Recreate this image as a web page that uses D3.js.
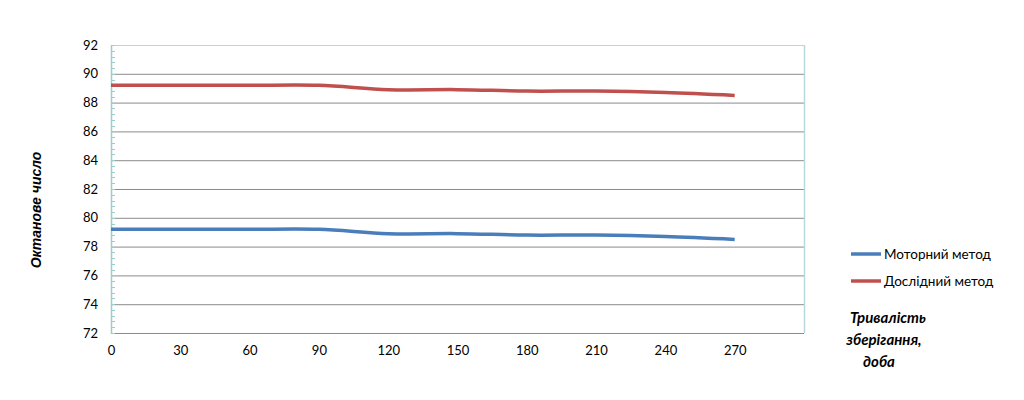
<!DOCTYPE html>
<html>
<head>
<meta charset="utf-8">
<script src="https://cdn.jsdelivr.net/npm/d3@7"></script>
<style>
html,body{margin:0;padding:0;background:#fff;}
svg{display:block;}
</style>
</head>
<body>
<svg id="chart" width="1024" height="400"></svg>
<script>
const days = [0, 30, 60, 90, 120, 150, 180, 210, 240, 270];
const motorMethod = [79.2, 79.2, 79.2, 79.2, 78.9, 78.9, 78.8, 78.8, 78.7, 78.5];
const researchMethod = [89.2, 89.2, 89.2, 89.2, 88.9, 88.9, 88.8, 88.8, 88.7, 88.5];
const xTicks = [0, 30, 60, 90, 120, 150, 180, 210, 240, 270];
const yTicks = [72, 74, 76, 78, 80, 82, 84, 86, 88, 90, 92];
const seriesNames = ["Моторний метод", "Дослідний метод"];
const seriesColors = ["#4a7ebb", "#c0504d"];
const yTitle = "Октанове число";
const xTitleLines = ["Тривалість", "зберігання,", "доба"];

const svg = d3.select("#chart");
const L = 111, R = 804, T = 45, B = 333;
const x = d3.scaleLinear().domain([0, 300]).range([L, R]);
const y = d3.scaleLinear().domain([72, 92]).range([B, T]);

// gridlines
svg.append("g").selectAll("line").data(yTicks.filter(v => v > 72 && v < 92)).join("line")
  .attr("x1", L).attr("x2", R)
  .attr("y1", d => y(d) + 0.5).attr("y2", d => y(d) + 0.5)
  .attr("stroke", "#8c8c8c").attr("stroke-width", 1);

// top and right border
svg.append("line").attr("x1", L).attr("x2", R).attr("y1", T + 0.5).attr("y2", T + 0.5)
  .attr("stroke", "#b7d9d9").attr("stroke-width", 1);
svg.append("line").attr("x1", R + 0.5).attr("x2", R + 0.5).attr("y1", T).attr("y2", B)
  .attr("stroke", "#b7d9d9").attr("stroke-width", 1.5);

// bottom axis line
svg.append("line").attr("x1", L).attr("x2", R).attr("y1", B + 0.5).attr("y2", B + 0.5)
  .attr("stroke", "#8c8c8c").attr("stroke-width", 1);

// y axis with minor ticks
const minor = d3.range(72, 92.001, 0.4);
svg.append("g").selectAll("line").data(minor).join("line")
  .attr("x1", L).attr("x2", L + 4)
  .attr("y1", d => Math.round(y(d)) + 0.5).attr("y2", d => Math.round(y(d)) + 0.5)
  .attr("stroke", "#9ccccc").attr("stroke-width", 1);
svg.append("line").attr("x1", L + 0.5).attr("x2", L + 0.5).attr("y1", T).attr("y2", B + 1)
  .attr("stroke", "#9ccccc").attr("stroke-width", 1.5);

// y tick labels
const yAxis = d3.axisLeft(y).tickValues(yTicks).tickSize(0).tickPadding(13);
const gy = svg.append("g").attr("transform", `translate(${L},0)`).call(yAxis);
gy.select(".domain").remove();
gy.selectAll("text").attr("font-family", "Lato, 'Open Sans', sans-serif").attr("font-size", 13).attr("fill", "#000");

// x tick labels
const xAxis = d3.axisBottom(x).tickValues(xTicks).tickSize(0).tickPadding(13);
const gx = svg.append("g").attr("transform", `translate(0,${B})`).call(xAxis);
gx.select(".domain").remove();
gx.selectAll("text").attr("font-family", "Lato, 'Open Sans', sans-serif").attr("font-size", 13).attr("fill", "#000");

// lines (Excel-style smoothing)
const line = d3.line().x((d, i) => x(days[i])).y(d => y(d)).curve(d3.curveCardinal.tension(0));
[motorMethod, researchMethod].forEach((s, k) => {
  svg.append("path").datum(s).attr("d", line)
    .attr("fill", "none").attr("stroke", seriesColors[k]).attr("stroke-width", 3.5)
    .attr("stroke-linecap", "butt");
});

// legend
seriesNames.forEach((n, k) => {
  const ly = 254 + k * 27;
  svg.append("line").attr("x1", 851).attr("x2", 881).attr("y1", ly).attr("y2", ly)
    .attr("stroke", seriesColors[k]).attr("stroke-width", 3.5);
  svg.append("text").attr("x", 884).attr("y", ly + 5).text(n)
    .attr("font-family", "Lato, 'Open Sans', sans-serif").attr("font-size", 13.5).attr("fill", "#000");
});

// y title
svg.append("text").attr("transform", "translate(41,210) rotate(-90)")
  .attr("text-anchor", "middle").text(yTitle)
  .attr("font-family", "'Liberation Sans', Arial, sans-serif").attr("font-size", 14)
  .attr("font-style", "italic").attr("font-weight", "bold").attr("fill", "#000");

// x title
xTitleLines.forEach((t, i) => {
  svg.append("text").attr("x", [888, 884, 879][i]).attr("y", 323 + i * 22)
    .attr("text-anchor", "middle").text(t)
    .attr("font-family", "Lato, 'Open Sans', sans-serif").attr("font-size", 15)
    .attr("font-style", "italic").attr("font-weight", "bold").attr("fill", "#000");
});
</script>
</body>
</html>
